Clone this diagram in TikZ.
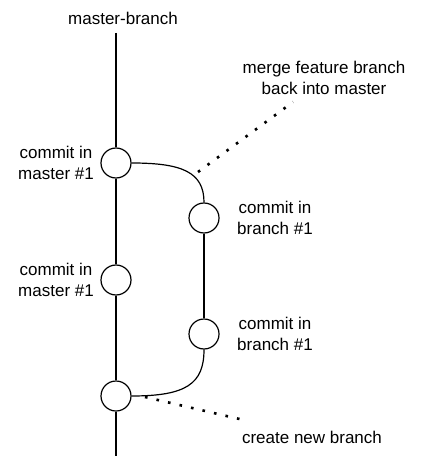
\documentclass[tikz,border=0pt]{standalone}
\usepackage{fontspec}
\setmainfont{Liberation Sans}
\usetikzlibrary{positioning}
\tikzset{
  commit/.style={draw, circle, line width=1.2pt, minimum size=30pt, inner sep=0pt},
  lbl/.style={align=center, font=\fontsize{17}{21}\selectfont, inner sep=2pt},
  note/.style={line width=2.6pt, dash pattern=on 2.6pt off 9.2pt}
}
\begin{document}
\begin{tikzpicture}[x=1pt, y=-1pt, line width=1.2pt] % git branch / merge

\useasboundingbox (0,0) rectangle (438,462);

\node[commit] (c1) at (116,163) {};
\node[commit] (c2) at (116,280) {};
\node[commit] (c3) at (116,396) {};

\node[commit] (b1) at (204,218) {};
\node[commit] (b2) at (204,334) {};

\coordinate (mtop) at (116,33);
\coordinate (mbot) at (116,456);

\draw  (mtop) -- (c1) -- (c2) -- (c3) -- (mbot);
\draw  (b1) -- (b2);

\draw  (c1.east) .. controls (182,163) and (204,172) .. (b1.north);
\draw  (c3.east) .. controls (186,396) and (204,384) .. (b2.south);

\node[lbl] (master) at (123,18) {master-branch};

\node[lbl, left=4pt of c1] {commit in\\master \#1};
\node[lbl, left=4pt of c2] {commit in\\master \#1};
\node[lbl, right=15pt of b1] {commit in\\branch \#1};
\node[lbl, right=15pt of b2] {commit in\\branch \#1};

\node[lbl] (merge) at (324,78) {merge feature branch\\back into master};
\node[lbl] (create) at (312,437) {create new branch};

\coordinate (mergeat) at (198,172);
\coordinate (mergeto) at (293,102);
\coordinate (createat) at (145,397);
\coordinate (createto) at (248,421);

\draw [note] (mergeat) -- (mergeto);
\draw [note] (createat) -- (createto);

\end{tikzpicture}
\end{document}
